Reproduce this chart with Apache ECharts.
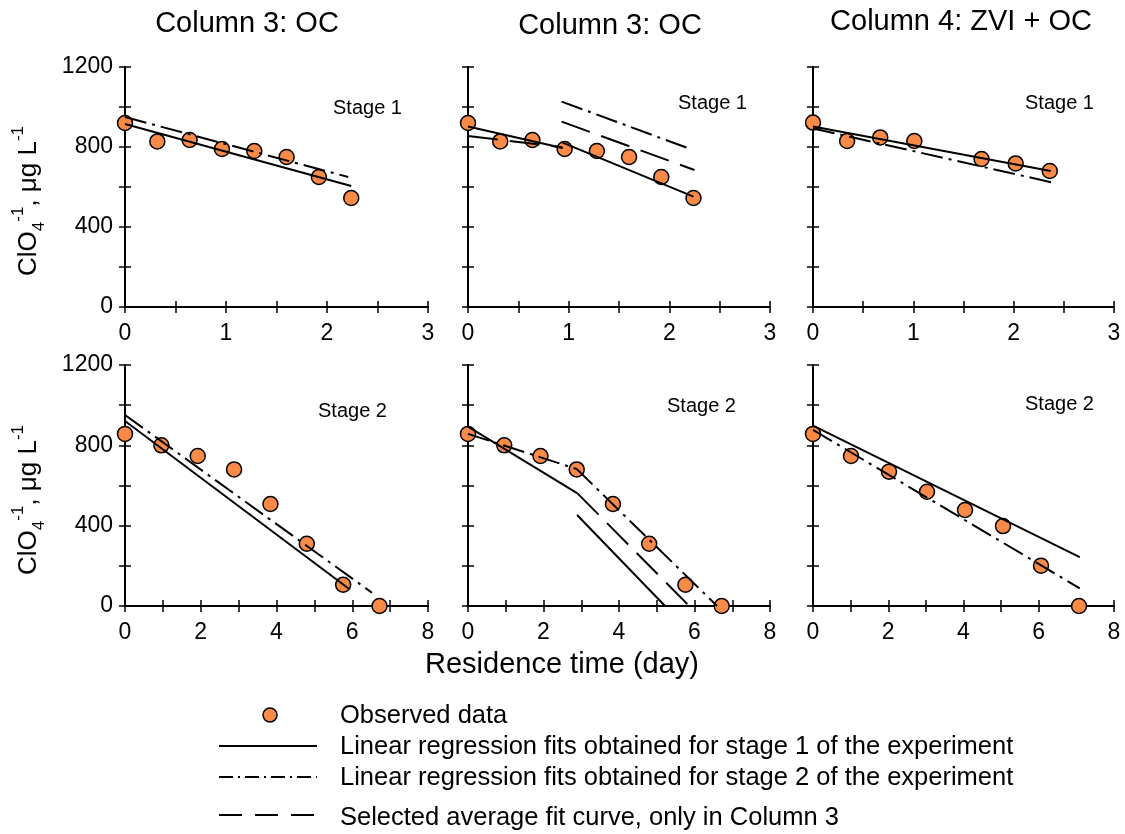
<!DOCTYPE html>
<html>
<head>
<meta charset="utf-8">
<script src="https://cdn.jsdelivr.net/npm/echarts@6/dist/echarts.min.js"></script>
<style>
html, body { margin: 0; background: #fff; }
#chart { width: 1125px; height: 834px; }
</style>
</head>
<body>
<div id="chart"></div>
<script>
// Observed data (residence time in days, ClO4 in ug/L)
var timeTopC3 = [0, 0.32, 0.64, 0.96, 1.28, 1.60, 1.92, 2.24];
var concTopC3 = [920, 828, 835, 790, 780, 750, 650, 545];
var timeTopC4 = [0, 0.34, 0.67, 1.01, 1.68, 2.02, 2.36];
var concTopC4 = [922, 830, 848, 830, 740, 718, 680];
var timeBotC3 = [0, 0.96, 1.92, 2.88, 3.84, 4.80, 5.76, 6.72];
var concBotC3 = [857, 800, 747, 680, 508, 310, 106, 0];
var timeBotC4 = [0, 1.01, 2.02, 3.03, 4.04, 5.05, 6.06, 7.07];
var concBotC4 = [857, 747, 669, 569, 478, 398, 201, 0];

// Fit lines, as [time, conc] end points
var p1Stage1Fit = [[0, 915], [2.24, 605]];
var p1Stage2Fit = [[0, 950], [2.21, 650]];
var p2Stage1FitA = [[0, 902], [0.94, 795]];
var p2Stage1FitB = [[0.94, 822], [2.24, 552]];
var p2AvgFitA = [[0, 855], [0.94, 798]];
var p2AvgFitB = [[0.93, 927], [2.25, 685]];
var p2Stage2FitB = [[0.93, 1027], [2.22, 788]];
var p3Stage1Fit = [[0, 902], [2.37, 680]];
var p3Stage2Fit = [[0, 893], [2.39, 622]];
var p4Stage1Fit = [[0, 921], [5.92, 85]];
var p4Stage2Fit = [[0, 951], [6.52, 66]];
var p5Stage1FitA = [[0, 893], [2.9, 561]];
var p5Stage1FitB = [[2.89, 453], [5.22, 0]];
var p5Stage2FitA = [[0, 857], [2.88, 682]];
var p5Stage2FitB = [[2.88, 682], [6.6, 0]];
var p5AvgFit = [[2.9, 561], [5.86, 0]];
var p6Stage1Fit = [[0, 898], [7.09, 243]];
var p6Stage2Fit = [[0, 877], [7.09, 88]];

var colTitles = ['Column 3: OC', 'Column 3: OC', 'Column 4: ZVI + OC'];
var stageNames = ['Stage 1', 'Stage 2'];
var legendNames = ['Observed data',
    'Linear regression fits obtained for stage 1 of the experiment',
    'Linear regression fits obtained for stage 2 of the experiment',
    'Selected average fit curve, only in Column 3'];

var FONT = '"Liberation Sans", Arial, Helvetica, sans-serif';
var ORANGE = '#F98A48';
var DASHDOT = [22, 6, 3, 6];
var DASHED = [30, 12];

var panels = [
    {left: 125, top: 67, width: 303, height: 240, xmax: 3, step: 0.5, every: 1, ylab: true},
    {left: 468, top: 67, width: 302, height: 240, xmax: 3, step: 0.5, every: 1},
    {left: 813, top: 67, width: 301, height: 240, xmax: 3, step: 0.5, every: 1},
    {left: 125, top: 365, width: 303, height: 241, xmax: 8, step: 1, every: 2, ylab: true},
    {left: 468, top: 365, width: 302, height: 241, xmax: 8, step: 1, every: 2},
    {left: 813, top: 365, width: 301, height: 241, xmax: 8, step: 1, every: 2}
];

var grids = [], xAxes = [], yAxes = [], series = [];
var axisLine = {show: true, lineStyle: {color: '#000', width: 2}};
var tick = {show: true, inside: true, length: 6, lineStyle: {color: '#000', width: 1.5}};

panels.forEach(function (p, i) {
    grids.push({left: p.left, top: p.top, width: p.width, height: p.height,
        containLabel: false, outerBoundsMode: 'none'});
    xAxes.push({
        type: 'value', gridIndex: i, position: 'bottom', min: 0, max: p.xmax, interval: p.step,
        axisLine: axisLine, axisTick: tick, splitLine: {show: false},
        axisLabel: {
            margin: 15, fontSize: 23, color: '#000', fontFamily: FONT,
            formatter: function (v) { return v % p.every === 0 ? String(v) : ''; }
        }
    });
    xAxes.push({
        type: 'value', gridIndex: i, position: 'top', min: 0, max: p.xmax, interval: p.step,
        axisLine: axisLine, axisTick: tick, splitLine: {show: false}, axisLabel: {show: false}
    });
    yAxes.push({
        type: 'value', gridIndex: i, position: 'left', min: 0, max: 1200, interval: 200,
        axisLine: axisLine, axisTick: tick, splitLine: {show: false},
        axisLabel: {
            show: !!p.ylab, margin: 12, fontSize: 23, color: '#000', fontFamily: FONT,
            formatter: function (v) { return v % 400 === 0 ? String(v) : ''; }
        }
    });
    yAxes.push({
        type: 'value', gridIndex: i, position: 'right', min: 0, max: 1200, interval: 200,
        axisLine: axisLine, axisTick: tick, splitLine: {show: false}, axisLabel: {show: false}
    });
});

function observed(i, times, concs) {
    return {
        type: 'scatter', xAxisIndex: 2 * i, yAxisIndex: 2 * i, z: 2,
        symbol: 'circle', symbolSize: 15,
        itemStyle: {color: ORANGE, borderColor: '#000', borderWidth: 1.5, opacity: 1},
        data: times.map(function (t, k) { return [t, concs[k]]; })
    };
}

function fitLine(i, pts, dash) {
    return {
        type: 'line', xAxisIndex: 2 * i, yAxisIndex: 2 * i, z: 3,
        symbol: 'none', showSymbol: false, silent: true,
        lineStyle: {color: '#000', width: 2, type: dash},
        data: pts
    };
}

series.push(observed(0, timeTopC3, concTopC3));
series.push(fitLine(0, p1Stage1Fit, 'solid'));
series.push(fitLine(0, p1Stage2Fit, DASHDOT));

series.push(observed(1, timeTopC3, concTopC3));
series.push(fitLine(1, p2Stage1FitA, 'solid'));
series.push(fitLine(1, p2Stage1FitB, 'solid'));
series.push(fitLine(1, p2AvgFitA, DASHED));
series.push(fitLine(1, p2AvgFitB, DASHED));
series.push(fitLine(1, p2Stage2FitB, DASHDOT));

series.push(observed(2, timeTopC4, concTopC4));
series.push(fitLine(2, p3Stage1Fit, 'solid'));
series.push(fitLine(2, p3Stage2Fit, DASHDOT));

series.push(observed(3, timeBotC3, concBotC3));
series.push(fitLine(3, p4Stage1Fit, 'solid'));
series.push(fitLine(3, p4Stage2Fit, DASHDOT));

series.push(observed(4, timeBotC3, concBotC3));
series.push(fitLine(4, p5Stage1FitA, 'solid'));
series.push(fitLine(4, p5Stage1FitB, 'solid'));
series.push(fitLine(4, p5Stage2FitA, DASHDOT));
series.push(fitLine(4, p5Stage2FitB, DASHDOT));
series.push(fitLine(4, p5AvgFit, DASHED));

series.push(observed(5, timeBotC4, concBotC4));
series.push(fitLine(5, p6Stage1Fit, 'solid'));
series.push(fitLine(5, p6Stage2Fit, DASHDOT));

function label(x, y, text, size, align) {
    return {type: 'text', x: x, y: y, silent: true,
        style: {text: text, fill: '#000', font: size + 'px ' + FONT,
            align: align || 'left', verticalAlign: 'middle'}};
}

var yName = '{m|ClO}{sub|4}{sup|-1}{m|, \u03bcg L}{sup|-1}';
function yLabel(cy) {
    return {type: 'text', x: 29, y: cy, rotation: Math.PI / 2, silent: true,
        style: {text: yName, fill: '#000', align: 'center', verticalAlign: 'middle',
            rich: {
                m: {fontSize: 26, lineHeight: 38, fontFamily: FONT, fill: '#000', verticalAlign: 'middle'},
                sub: {fontSize: 17, lineHeight: 17, fontFamily: FONT, fill: '#000', verticalAlign: 'bottom'},
                sup: {fontSize: 17, lineHeight: 17, fontFamily: FONT, fill: '#000', verticalAlign: 'top'}
            }}};
}

var graphics = [
    label(247, 24, colTitles[0], 29, 'center'),
    label(610, 26, colTitles[1], 29, 'center'),
    label(961, 22, colTitles[2], 29, 'center'),
    label(562, 665, 'Residence time (day)', 29, 'center'),
    label(333, 108, stageNames[0], 20),
    label(678, 103, stageNames[0], 20),
    label(1025, 103, stageNames[0], 20),
    label(318, 411, stageNames[1], 20),
    label(667, 406, stageNames[1], 20),
    label(1025, 404, stageNames[1], 20),
    yLabel(201),
    yLabel(500),
    // legend
    {type: 'circle', shape: {cx: 270, cy: 715, r: 7}, silent: true,
        style: {fill: ORANGE, stroke: '#000', lineWidth: 1.5}},
    {type: 'line', shape: {x1: 219, y1: 746, x2: 317, y2: 746}, silent: true,
        style: {stroke: '#000', lineWidth: 2}},
    {type: 'line', shape: {x1: 219, y1: 777, x2: 317, y2: 777}, silent: true,
        style: {stroke: '#000', lineWidth: 2, lineDash: [14, 5, 2, 5]}},
    {type: 'line', shape: {x1: 219, y1: 815, x2: 317, y2: 815}, silent: true,
        style: {stroke: '#000', lineWidth: 2, lineDash: [23, 13]}},
    label(340, 716, legendNames[0], 25.5),
    label(340, 747, legendNames[1], 25.5),
    label(340, 778, legendNames[2], 25.5),
    label(340, 818, legendNames[3], 25.5)
];

var chart = echarts.init(document.getElementById('chart'), null, {renderer: 'canvas'});
chart.setOption({
    animation: false,
    backgroundColor: '#fff',
    grid: grids,
    xAxis: xAxes,
    yAxis: yAxes,
    series: series,
    graphic: graphics
});
</script>
</body>
</html>
